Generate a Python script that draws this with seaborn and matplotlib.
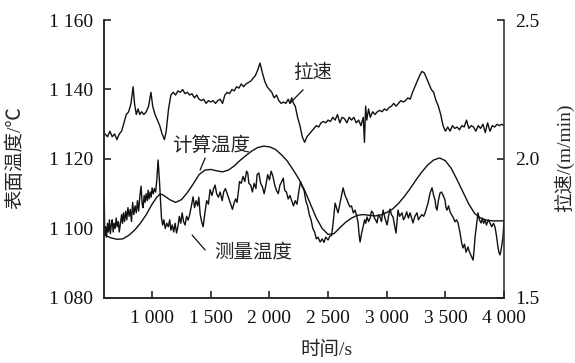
import matplotlib
matplotlib.use('Agg')
import matplotlib.pyplot as plt
import seaborn as sns
import pandas as pd
from matplotlib.ticker import FuncFormatter, MultipleLocator

# casting speed, m/min (right axis)
speed_time = [600, 620, 640, 660, 680, 700, 720, 740, 760, 780, 800, 820, 838, 850, 865, 880, 895, 910,
              930, 950, 970, 990, 1005, 1025, 1045, 1065, 1085, 1105, 1120, 1140, 1160, 1180, 1200, 1220,
              1240, 1260, 1280, 1300, 1320, 1340, 1360, 1380, 1400, 1420, 1440, 1460, 1480, 1500, 1520,
              1540, 1560, 1580, 1600, 1620, 1640, 1660, 1680, 1700, 1720, 1740, 1760, 1780, 1800, 1820,
              1840, 1860, 1880, 1900, 1920, 1940, 1960, 1980, 2000, 2020, 2040, 2060, 2080, 2100, 2120,
              2140, 2160, 2175, 2190, 2205, 2220, 2240, 2260, 2280, 2300, 2320, 2340, 2360, 2380, 2400,
              2420, 2440, 2460, 2480, 2500, 2520, 2540, 2560, 2580, 2600, 2620, 2640, 2660, 2680, 2700,
              2720, 2740, 2760, 2780, 2800, 2810, 2820, 2830, 2845, 2860, 2880, 2900, 2920, 2940, 2960,
              2980, 3000, 3020, 3040, 3060, 3080, 3100, 3120, 3140, 3160, 3180, 3200, 3220, 3240, 3260,
              3280, 3300, 3320, 3340, 3360, 3380, 3400, 3420, 3440, 3460, 3480, 3500, 3520, 3540, 3560,
              3580, 3600, 3620, 3640, 3660, 3680, 3700, 3720, 3740, 3760, 3780, 3800, 3820, 3840, 3860,
              3880, 3900, 3920, 3940, 3960, 3980, 4000]
speed_value = [2.09, 2.08, 2.10, 2.08, 2.09, 2.07, 2.09, 2.10, 2.13, 2.16, 2.17, 2.20, 2.26, 2.20, 2.16,
               2.18, 2.16, 2.17, 2.16, 2.17, 2.19, 2.24, 2.19, 2.16, 2.14, 2.12, 2.09, 2.07, 2.10, 2.18,
               2.23, 2.24, 2.23, 2.245, 2.24, 2.25, 2.235, 2.24, 2.23, 2.235, 2.22, 2.23, 2.215, 2.21,
               2.215, 2.20, 2.21, 2.205, 2.21, 2.20, 2.21, 2.215, 2.20, 2.23, 2.24, 2.235, 2.25, 2.245,
               2.26, 2.255, 2.27, 2.26, 2.27, 2.275, 2.28, 2.29, 2.30, 2.32, 2.345, 2.31, 2.28, 2.26,
               2.25, 2.24, 2.22, 2.23, 2.21, 2.20, 2.205, 2.20, 2.215, 2.20, 2.22, 2.20, 2.19, 2.15, 2.12,
               2.08, 2.06, 2.08, 2.09, 2.10, 2.11, 2.12, 2.115, 2.13, 2.135, 2.13, 2.14, 2.135, 2.15,
               2.14, 2.16, 2.13, 2.15, 2.145, 2.13, 2.15, 2.14, 2.15, 2.13, 2.14, 2.12, 2.15, 2.06, 2.19,
               2.14, 2.18, 2.15, 2.17, 2.16, 2.17, 2.175, 2.17, 2.18, 2.175, 2.185, 2.19, 2.20, 2.19,
               2.20, 2.21, 2.205, 2.21, 2.22, 2.215, 2.24, 2.26, 2.28, 2.30, 2.315, 2.31, 2.29, 2.27,
               2.25, 2.24, 2.21, 2.19, 2.16, 2.12, 2.10, 2.115, 2.10, 2.12, 2.11, 2.115, 2.105, 2.12,
               2.115, 2.14, 2.11, 2.12, 2.115, 2.10, 2.12, 2.11, 2.125, 2.095, 2.13, 2.10, 2.12, 2.115,
               2.125, 2.12, 2.125, 2.12]

# calculated surface temperature, smooth
calc_time = [600, 650, 700, 750, 800, 850, 900, 950, 1000, 1040, 1070, 1100, 1150, 1200, 1250, 1300,
             1350, 1400, 1450, 1500, 1550, 1600, 1650, 1700, 1750, 1800, 1850, 1900, 1950, 2000, 2050,
             2100, 2150, 2200, 2250, 2300, 2350, 2400, 2450, 2500, 2550, 2600, 2650, 2700, 2750, 2800,
             2850, 2900, 2950, 3000, 3050, 3100, 3150, 3200, 3250, 3300, 3350, 3400, 3450, 3500, 3550,
             3600, 3650, 3700, 3750, 3800, 3850, 3900, 3950, 4000]
calc_temp = [1098.0, 1097.3, 1096.9, 1097.0, 1098.0, 1099.5, 1101.5, 1104.0, 1107.0, 1109.0, 1110.0,
             1109.5, 1108.3, 1107.5, 1108.3, 1110.3, 1112.8, 1115.5, 1116.8, 1117.0, 1116.6, 1116.3,
             1116.8, 1118.0, 1119.6, 1121.0, 1122.3, 1123.3, 1123.7, 1123.5, 1122.8, 1121.3, 1119.5,
             1117.0, 1114.3, 1111.0, 1107.0, 1103.0, 1100.0, 1098.3, 1098.5, 1100.2, 1101.8, 1103.0,
             1103.8, 1104.0, 1103.8, 1103.6, 1103.9, 1104.6, 1105.6, 1107.2, 1109.2, 1111.5, 1114.0,
             1116.3, 1118.3, 1119.7, 1120.3, 1119.5, 1117.3, 1114.0, 1110.5, 1107.0, 1104.3, 1103.0,
             1102.4, 1102.2, 1102.2, 1102.2]

# measured surface temperature, noisy
meas_time = [592, 596, 604, 612, 620, 628, 636, 644, 652, 660, 668, 676, 685, 694, 702, 712, 720, 730,
             740, 748, 756, 765, 775, 784, 794, 804, 814, 824, 834, 844, 855, 865, 875, 885, 896, 906,
             915, 923, 932, 940, 949, 958, 966, 974, 984, 992, 1000, 1010, 1020, 1030, 1040, 1051, 1062,
             1072, 1080, 1090, 1100, 1112, 1125, 1138, 1150, 1160, 1172, 1184, 1196, 1208, 1220, 1232,
             1244, 1256, 1268, 1281, 1294, 1307, 1320, 1335, 1349, 1362, 1375, 1388, 1398, 1410, 1422,
             1435, 1450, 1465, 1480, 1494, 1510, 1525, 1537, 1550, 1565, 1580, 1597, 1610, 1625, 1640,
             1655, 1670, 1685, 1700, 1712, 1724, 1735, 1745, 1760, 1775, 1790, 1805, 1815, 1825, 1840,
             1855, 1870, 1885, 1895, 1910, 1925, 1940, 1955, 1970, 1985, 2000, 2015, 2030, 2045, 2060,
             2075, 2090, 2105, 2118, 2130, 2145, 2160, 2175, 2190, 2205, 2220, 2235, 2250, 2265, 2280,
             2295, 2310, 2325, 2340, 2355, 2370, 2385, 2400, 2415, 2432, 2450, 2465, 2480, 2500, 2515,
             2530, 2543, 2560, 2572, 2585, 2600, 2615, 2628, 2645, 2662, 2675, 2687, 2700, 2715, 2730,
             2745, 2756, 2765, 2773, 2785, 2798, 2812, 2820, 2832, 2845, 2858, 2870, 2883, 2895, 2905,
             2917, 2930, 2943, 2955, 2969, 2985, 3003, 3015, 3028, 3040, 3054, 3066, 3079, 3088, 3096,
             3110, 3130, 3143, 3156, 3170, 3185, 3199, 3212, 3224, 3240, 3258, 3270, 3284, 3300, 3315,
             3327, 3340, 3352, 3369, 3386, 3400, 3412, 3420, 3429, 3440, 3454, 3467, 3480, 3497, 3505,
             3514, 3527, 3540, 3552, 3565, 3575, 3582, 3595, 3608, 3617, 3625, 3638, 3650, 3663, 3676,
             3685, 3693, 3702, 3710, 3722, 3736, 3745, 3753, 3765, 3778, 3790, 3804, 3815, 3825, 3838,
             3850, 3865, 3880, 3895, 3910, 3923, 3935, 3948, 3957, 3966, 3978, 3991, 4000]
meas_temp = [1109.0, 1098.0, 1100.5, 1097.5, 1101.5, 1099.0, 1102.5, 1098.5, 1101.0, 1102.5, 1099.0,
             1101.5, 1100.0, 1103.0, 1100.5, 1102.0, 1099.0, 1101.5, 1104.0, 1101.5, 1104.5, 1102.0,
             1105.0, 1102.5, 1106.0, 1103.5, 1105.5, 1102.0, 1107.5, 1104.0, 1106.5, 1104.5, 1108.0,
             1105.0, 1109.5, 1112.2, 1107.0, 1106.0, 1109.5, 1107.5, 1110.0, 1108.0, 1111.0, 1108.5,
             1110.5, 1109.0, 1111.7, 1110.0, 1111.5, 1110.5, 1114.0, 1119.7, 1114.0, 1108.0, 1103.0,
             1101.0, 1102.5, 1100.0, 1101.5, 1100.5, 1102.5, 1099.5, 1101.0, 1099.0, 1101.5, 1098.7,
             1100.5, 1103.5, 1101.5, 1104.5, 1102.0, 1101.0, 1103.5, 1102.4, 1104.0, 1106.5, 1109.1,
             1106.0, 1108.0, 1106.5, 1109.0, 1104.0, 1102.0, 1100.5, 1104.5, 1108.0, 1107.0, 1111.2,
             1109.5, 1111.5, 1112.5, 1110.0, 1109.0, 1110.5, 1108.0, 1110.5, 1111.5, 1110.0, 1108.5,
             1107.0, 1105.5, 1107.5, 1108.5, 1107.5, 1110.5, 1113.5, 1113.0, 1115.0, 1113.5, 1116.5,
             1116.0, 1113.0, 1112.5, 1110.5, 1113.0, 1111.5, 1115.5, 1116.0, 1113.0, 1112.0, 1110.0,
             1112.5, 1115.5, 1114.0, 1116.5, 1115.0, 1112.5, 1111.0, 1110.0, 1112.5, 1113.5, 1114.5,
             1111.0, 1110.5, 1108.5, 1109.5, 1108.0, 1106.5, 1108.0, 1107.0, 1110.5, 1113.5, 1112.0,
             1111.0, 1108.0, 1106.5, 1104.0, 1102.5, 1100.0, 1099.0, 1097.0, 1097.5, 1096.1, 1097.0,
             1096.0, 1097.5, 1096.7, 1097.8, 1098.0, 1101.6, 1107.3, 1106.0, 1104.5, 1107.0, 1109.5,
             1111.7, 1109.5, 1108.2, 1107.0, 1106.2, 1106.5, 1104.5, 1105.3, 1103.5, 1101.6, 1098.0,
             1096.1, 1098.5, 1100.4, 1102.5, 1101.5, 1103.3, 1102.0, 1103.0, 1105.0, 1104.5, 1103.0,
             1102.5, 1101.6, 1104.0, 1103.3, 1102.0, 1105.3, 1103.0, 1101.0, 1103.5, 1105.6, 1104.0,
             1103.3, 1101.0, 1098.7, 1102.0, 1105.3, 1103.5, 1104.5, 1102.5, 1103.3, 1104.8, 1103.0,
             1104.5, 1103.0, 1101.6, 1103.5, 1104.5, 1102.5, 1103.3, 1104.0, 1103.5, 1104.5, 1106.0,
             1107.3, 1110.2, 1111.7, 1109.5, 1108.2, 1106.0, 1105.3, 1108.0, 1110.2, 1110.5, 1109.6,
             1108.2, 1106.0, 1105.3, 1106.5, 1104.8, 1104.0, 1103.3, 1102.5, 1101.9, 1102.5, 1101.6,
             1100.0, 1098.7, 1096.0, 1094.4, 1095.5, 1093.2, 1094.0, 1094.7, 1093.5, 1092.9, 1092.0,
             1090.9, 1094.0, 1097.6, 1101.0, 1104.5, 1102.5, 1101.6, 1103.0, 1101.5, 1102.4, 1101.0,
             1102.5, 1101.6, 1100.5, 1101.5, 1100.4, 1098.0, 1094.7, 1093.0, 1092.4, 1094.5, 1097.6,
             1102.4]

speed_df = pd.DataFrame({'time': speed_time, 'speed': speed_value})
calc_df = pd.DataFrame({'time': calc_time, 'temp': calc_temp})
meas_df = pd.DataFrame({'time': meas_time, 'temp': meas_temp})

sns.set_theme(style='ticks')
plt.rcParams['font.family'] = ['Liberation Serif', 'Noto Sans CJK SC']
plt.rcParams['axes.linewidth'] = 1.1

fig = plt.figure(figsize=(5.75, 3.63), dpi=100)
ax = fig.add_axes([0.1809, 0.1791, 0.6957, 0.7658])
ax2 = ax.twinx()

line_kw = dict(color='#111111', linewidth=1.0, estimator=None)
sns.lineplot(data=meas_df, x='time', y='temp', ax=ax, **line_kw)
sns.lineplot(data=calc_df, x='time', y='temp', ax=ax, **line_kw)
sns.lineplot(data=speed_df, x='time', y='speed', ax=ax2, **line_kw)

ax.set_xlim(590, 4000)
ax.set_ylim(1080, 1160)
ax2.set_ylim(1.5, 2.5)
ax.set_xticks([1000, 1500, 2000, 2500, 3000, 3500, 4000])
ax.yaxis.set_major_locator(MultipleLocator(20))
ax2.yaxis.set_major_locator(MultipleLocator(0.5))
thousands = FuncFormatter(lambda v, p: f'{int(round(v)):,}'.replace(',', ' '))
ax.xaxis.set_major_formatter(thousands)
ax.yaxis.set_major_formatter(thousands)
ax2.yaxis.set_major_formatter(FuncFormatter(lambda v, p: f'{v:.1f}'))

for a in (ax, ax2):
    a.spines['top'].set_visible(False)
    a.tick_params(direction='in', length=5, width=1.1, labelsize=14, colors='#111111')
ax.spines['right'].set_visible(False)
ax.tick_params(axis='y', pad=8)
ax.tick_params(axis='x', pad=9)
ax2.tick_params(axis='y', pad=8)

ax.set_xlabel('时间/s', fontsize=14)
ax.xaxis.set_label_coords(0.555, -0.155)
ax.set_ylabel('表面温度/℃', fontsize=14)
ax.yaxis.set_label_coords(-0.20, 0.504)
ax2.set_ylabel('拉速/(m/min)', fontsize=14)
ax2.yaxis.set_label_coords(1.125, 0.504)

# labels with short leader lines
leader = dict(arrowstyle='-', color='#111111', lw=0.9, shrinkA=0, shrinkB=0)
ax.text(2364, 1144.8, '拉速', fontsize=14, ha='center', va='center')
ax.annotate('', xy=(2176, 1136.1), xytext=(2287, 1139.9), arrowprops=leader)
ax.text(1503, 1123.7, '计算温度', fontsize=14, ha='center', va='center')
ax.annotate('', xy=(1409, 1116.8), xytext=(1452, 1120.3), arrowprops=leader)
ax.text(1861, 1093.0, '测量温度', fontsize=14, ha='center', va='center')
ax.annotate('', xy=(1341, 1098.1), xytext=(1452, 1093.8), arrowprops=leader)

fig.savefig('out.png', dpi=100)
